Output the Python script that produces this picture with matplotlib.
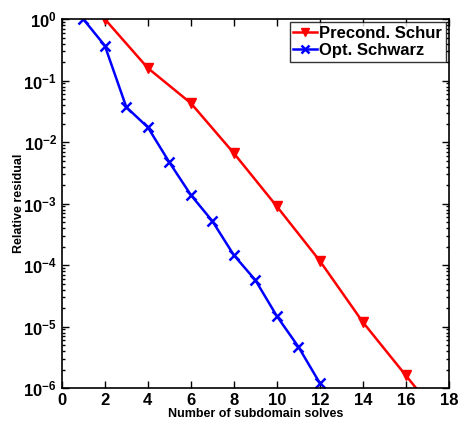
import matplotlib
matplotlib.use("Agg")
import matplotlib.pyplot as plt
import numpy as np

schur_x = [2, 4, 6, 8, 10, 12, 14, 16, 18]
schur_res = [1.0, 0.16, 0.043, 0.0066, 9.0e-4, 1.17e-4, 1.18e-5, 1.6e-6, 2.2e-7]
schwarz_x = [1, 2, 3, 4, 5, 6, 7, 8, 9, 10, 11, 12]
schwarz_res = [1.0, 0.37, 0.037, 0.0174, 0.0047, 0.00138, 5.2e-4, 1.45e-4,
               5.7e-5, 1.48e-5, 4.7e-6, 1.2e-6]

plt.rcParams['font.family'] = ['Liberation Sans', 'DejaVu Sans']
plt.rcParams['font.weight'] = 'bold'

fig = plt.figure(figsize=(4.58, 4.25), dpi=100)
ax = fig.add_axes([0.135, 0.087, 0.845, 0.868])

ax.semilogy(schur_x, schur_res, color='red', marker='v', markersize=6.5,
            linewidth=1.8, label='Precond. Schur')
ax.semilogy(schwarz_x, schwarz_res, color='blue', marker='x', markersize=6.5,
            markeredgewidth=1.8, linewidth=1.8, label='Opt. Schwarz')

ax.set_xlim(0, 18)
ax.set_ylim(1e-6, 1)
ax.set_xticks(np.arange(0, 19, 2))
ax.set_yticks([1e-6, 1e-5, 1e-4, 1e-3, 1e-2, 1e-1, 1e0])
ax.tick_params(which='both', direction='in', top=True, right=True,
               labelsize=12, width=1)
ax.tick_params(which='major', length=5)
ax.tick_params(which='minor', length=2.5)
for lab in ax.get_xticklabels() + ax.get_yticklabels():
    lab.set_fontweight('bold')
for sp in ax.spines.values():
    sp.set_linewidth(1.2)

ax.set_xlabel('Number of subdomain solves', fontsize=9, fontweight='bold', labelpad=0)
ax.set_ylabel('Relative residual', fontsize=9, fontweight='bold', labelpad=-1)

leg = ax.legend(loc='upper right', fontsize=12, frameon=True, fancybox=False,
                handlelength=1.4, handletextpad=0.15, borderpad=0.2,
                labelspacing=0.15, borderaxespad=0.2, markerscale=0.8)
leg.get_frame().set_edgecolor('black')
leg.get_frame().set_linewidth(1.0)
for t in leg.get_texts():
    t.set_fontweight('bold')

fig.savefig('out.png', dpi=100)
